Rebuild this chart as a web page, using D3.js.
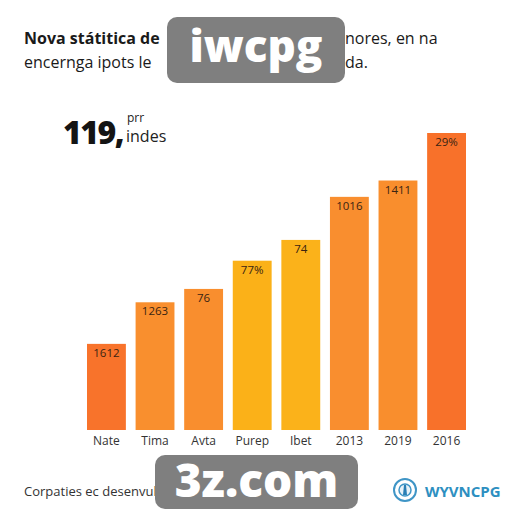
<!DOCTYPE html>
<html>
<head>
<meta charset="utf-8">
<script src="https://cdn.jsdelivr.net/npm/d3@7"></script>
<style>
  body { margin: 0; background: #fff; }
  svg { display: block; font-family: "Open Sans", Lato, sans-serif; }
</style>
</head>
<body>
<script>
// data
const categories = ["Nate", "Tima", "Avta", "Purep", "Ibet", "2013", "2019", "2016"];
const values = [29, 43, 47.5, 57, 64, 78.5, 84, 100];
const bar_labels = ["1612", "1263", "76", "77%", "74", "1016", "1411", "29%"];
const bar_colors = ["#f8732b", "#f98f2e", "#f98e2e", "#fbb118", "#fbb21a", "#f98e2f", "#f98e2d", "#f8712a"];

const W = 512, H = 512;

const svg = d3.select("body").append("svg")
    .attr("width", W)
    .attr("height", H);

// title (middle part sits under the watermark)
const title = svg.append("g").attr("fill", "#1a1a1a").attr("font-size", 16);
title.append("text")
    .attr("x", 24).attr("y", 44)
    .attr("font-weight", 700)
    .text("Nova státitica de");
title.append("text")
    .attr("x", 345).attr("y", 44)
    .text("nores, en na");
title.append("text")
    .attr("x", 24).attr("y", 68)
    .text("encernga ipots le");
title.append("text")
    .attr("x", 345).attr("y", 68)
    .text("da.");

// big number
svg.append("text")
    .attr("x", 63).attr("y", 144)
    .attr("font-size", 32).attr("font-weight", 800).attr("fill", "#141414")
    .attr("letter-spacing", -1.5)
    .text("119,");
svg.append("text")
    .attr("x", 127).attr("y", 122)
    .attr("font-size", 12).attr("fill", "#222")
    .text("prr");
svg.append("text")
    .attr("x", 126).attr("y", 142)
    .attr("font-size", 16).attr("fill", "#222")
    .text("indes");

// scales
const x = d3.scaleBand()
    .domain(categories)
    .range([87, 466])
    .paddingInner(0.2)
    .paddingOuter(0);

const y = d3.scaleLinear()
    .domain([0, 100])
    .range([430, 133]);

const bars = svg.append("g").attr("class", "Bars");

bars.selectAll("rect")
    .data(categories)
    .enter()
    .append("rect")
    .attr("x", d => x(d))
    .attr("y", (d, i) => y(values[i]))
    .attr("width", x.bandwidth())
    .attr("height", (d, i) => y(0) - y(values[i]))
    .attr("fill", (d, i) => bar_colors[i]);

bars.selectAll("text")
    .data(categories)
    .enter()
    .append("text")
    .attr("x", d => x(d) + x.bandwidth() / 2)
    .attr("y", (d, i) => y(values[i]) + 13)
    .attr("text-anchor", "middle")
    .attr("font-size", 11.5)
    .attr("fill", "#3a2412")
    .text((d, i) => bar_labels[i]);

// x axis, no line or ticks
const x_axis = svg.append("g")
    .attr("transform", "translate(0,432)")
    .call(d3.axisBottom(x).tickSize(0).tickPadding(4));
x_axis.select(".domain").remove();
x_axis.selectAll("text")
    .attr("font-size", 12)
    .attr("font-family", "\"Open Sans\", sans-serif")
    .attr("fill", "#333");

// footer
svg.append("text")
    .attr("x", 24).attr("y", 496)
    .attr("font-size", 13).attr("fill", "#333")
    .text("Corpaties ec desenvulc");

const logo = svg.append("g").attr("transform", "translate(405,490)");
logo.append("circle").attr("r", 11).attr("fill", "none").attr("stroke", "#3f95c6").attr("stroke-width", 2);
logo.append("circle").attr("r", 6).attr("fill", "#e8f2f8").attr("stroke", "#3f95c6").attr("stroke-width", 1.5);
logo.append("path").attr("d", "M-1,-5 L1,-5 L2,5 L-2,5 Z").attr("fill", "#2a7fb5");
svg.append("text")
    .attr("x", 425).attr("y", 497)
    .attr("font-size", 15).attr("font-weight", 700).attr("fill", "#2d8fc1")
    .text("WYVNCPG");

// watermark boxes
const marks = [
    {text: "iwcpg", x: 167, y: 17, w: 178, h: 66, ty: 62, size: 44},
    {text: "3z.com", x: 155, y: 455, w: 203, h: 54, ty: 497, size: 46}
];
marks.forEach(m => {
    svg.append("rect")
        .attr("x", m.x).attr("y", m.y)
        .attr("width", m.w).attr("height", m.h)
        .attr("rx", 10)
        .attr("fill", "#7f7f7f");
    svg.append("text")
        .attr("x", m.x + m.w / 2).attr("y", m.ty)
        .attr("text-anchor", "middle")
        .attr("font-size", m.size).attr("font-weight", 800)
        .attr("font-family", "\"Open Sans\", sans-serif")
        .attr("fill", "#fff")
        .text(m.text);
});
</script>
</body>
</html>
